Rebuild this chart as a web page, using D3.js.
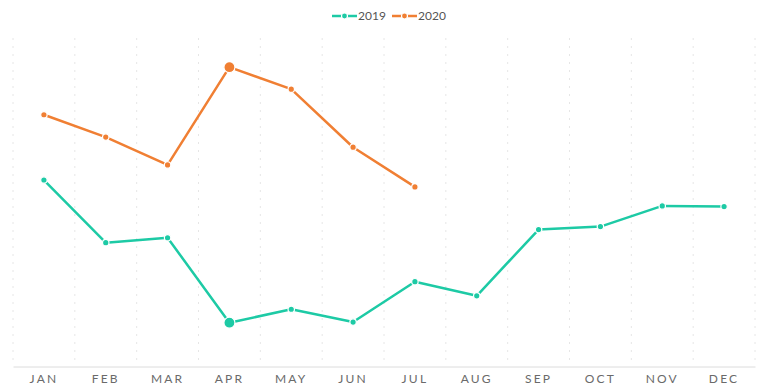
<!DOCTYPE html>
<html><head><meta charset="utf-8">
<script src="https://cdn.jsdelivr.net/npm/d3@7/dist/d3.min.js"></script>
<style>body{margin:0;background:#fff;}svg{display:block;}</style>
</head><body>
<svg id="chart" width="768" height="392"></svg>
<script>
const months = ["JAN","FEB","MAR","APR","MAY","JUN","JUL","AUG","SEP","OCT","NOV","DEC"];
const seriesNames = ["2019","2020"];
const values2019 = [56.7,37.6,39.1,13.2,17.3,13.4,25.7,21.4,41.6,42.5,48.8,48.6];
const values2020 = [76.6,69.8,61.3,91.1,84.4,66.7,54.6];
const colors = ["#1dcaa5","#f07f33"];

const svg = d3.select("#chart");
const W = 768, H = 392;
const m = {left:13, right:13, top:38, bottom:26};
const x = d3.scaleBand().domain(months).range([m.left, W - m.right]);
const y = d3.scaleLinear().domain([0,100]).range([H - m.bottom, m.top]);

// vertical dashed split lines at band boundaries
const bounds = months.map(d => x(d)).concat([x.range()[1]]);
svg.append("g").selectAll("line").data(bounds).join("line")
  .attr("x1", d => d).attr("x2", d => d)
  .attr("y1", m.top).attr("y2", H - m.bottom)
  .attr("stroke", "#e6e6e6").attr("stroke-width", 1)
  .attr("stroke-dasharray", "2,6");

// x axis
const xAxis = svg.append("g").attr("transform", `translate(0,${H - m.bottom + 0.5})`)
  .call(d3.axisBottom(x).tickSize(0).tickPadding(8));
xAxis.select(".domain").attr("stroke", "#dcdcdc");
xAxis.selectAll("text").attr("fill", "#6a6a6a").attr("font-size", 12)
  .attr("font-family", "Lato, 'Open Sans', sans-serif").attr("letter-spacing", "2.2px");

const data = [values2019, values2020];
const line = d3.line().x((d,i) => x(months[i]) + x.bandwidth()/2).y(d => y(d));

data.forEach((vals, si) => {
  const g = svg.append("g");
  g.append("path").datum(vals).attr("d", line).attr("fill", "none")
    .attr("stroke", colors[si]).attr("stroke-width", 2.5).attr("stroke-linejoin", "round");
  const ext = si === 0 ? vals.indexOf(d3.min(vals)) : vals.indexOf(d3.max(vals));
  g.selectAll("circle").data(vals).join("circle")
    .attr("cx", (d,i) => x(months[i]) + x.bandwidth()/2)
    .attr("cy", d => y(d))
    .attr("r", (d,i) => i === ext ? 5.5 : 3.2)
    .attr("fill", colors[si]).attr("stroke", "#fff").attr("stroke-width", 1.2);
});

// legend
const legend = svg.append("g");
const legendX = [332, 392];
seriesNames.forEach((name, i) => {
  const lg = legend.append("g").attr("transform", `translate(${legendX[i]},16)`);
  lg.append("line").attr("x1", 0).attr("x2", 25).attr("y1", 0).attr("y2", 0)
    .attr("stroke", colors[i]).attr("stroke-width", 2.5);
  lg.append("circle").attr("cx", 12.5).attr("cy", 0).attr("r", 3)
    .attr("fill", colors[i]).attr("stroke", "#fff").attr("stroke-width", 1.2);
  lg.append("text").attr("x", 26).attr("y", 0).attr("dy", "0.35em")
    .attr("font-size", 12).attr("fill", "#555")
    .attr("font-family", "Lato, 'Open Sans', sans-serif").text(name);
});
</script>
</body></html>
